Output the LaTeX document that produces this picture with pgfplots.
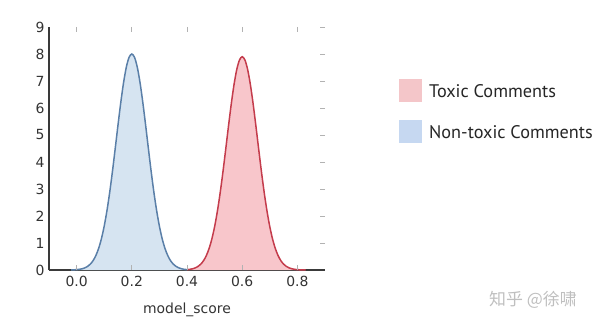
\documentclass[border=0pt]{standalone}
\usepackage{pgfplots}
\pgfplotsset{compat=1.18}
\usepackage{fontspec}
\setmainfont{DejaVu Sans}
\newfontfamily\legfont{PT Sans}
\newfontfamily\cjk{Noto Sans CJK SC}
\definecolor{bline}{HTML}{5A7FA8}
\definecolor{bfill}{HTML}{D6E4F1}
\definecolor{rline}{HTML}{C43C4C}
\definecolor{rfill}{HTML}{F8C6CB}
\definecolor{legr}{HTML}{F4C6C9}
\definecolor{legb}{HTML}{C6D8F1}
\definecolor{spine}{HTML}{3A3A3A}
\definecolor{txt}{HTML}{333333}
\begin{document}
\begin{tikzpicture}[x=1bp,y=1bp]
\path[use as bounding box] (0,0) rectangle (600,325);
\begin{axis}[
  at={(49bp,55bp)}, anchor=south west,
  scale only axis, width=276bp, height=243bp,
  xmin=-0.1, xmax=0.9, ymin=0, ymax=9,
  axis x line*=bottom, axis y line*=left,
  axis line style={spine, line width=1.4bp},
  xtick={0,0.2,0.4,0.6,0.8}, ytick={0,1,...,9},
  major tick length=0pt,
  xticklabel style={/pgf/number format/fixed,/pgf/number format/fixed zerofill,/pgf/number format/precision=1, yshift=-3bp},
  /pgf/number format/assume math mode=true,
  tick label style={font=\fontsize{14}{16}\selectfont, text=txt},
  xlabel={model\_score}, xlabel style={font=\fontsize{14}{16}\selectfont, text=txt, yshift=-9bp},
  yticklabel style={xshift=-1bp},
  clip=false,
]
\addplot[draw=none, fill=bfill] coordinates {
(-0.02,0.004)(-0.01,0.007)(0.00,0.014)(0.01,0.025)(0.02,0.046)(0.03,0.080)(0.04,0.135)(0.05,0.221)(0.06,0.351)(0.07,0.541)(0.08,0.806)(0.09,1.162)(0.10,1.624)(0.11,2.199)(0.12,2.883)(0.13,3.662)(0.14,4.507)(0.15,5.371)(0.16,6.198)(0.17,6.930)(0.18,7.506)(0.19,7.874)(0.20,8.000)(0.21,7.874)(0.22,7.506)(0.23,6.930)(0.24,6.198)(0.25,5.371)(0.26,4.507)(0.27,3.662)(0.28,2.883)(0.29,2.199)(0.30,1.624)(0.31,1.162)(0.32,0.806)(0.33,0.541)(0.34,0.351)(0.35,0.221)(0.36,0.135)(0.37,0.080)(0.38,0.046)(0.39,0.025)(0.40,0.014)
} \closedcycle;
\addplot[bline, line width=1.5bp, smooth] coordinates {
(-0.02,0.004)(-0.01,0.007)(0.00,0.014)(0.01,0.025)(0.02,0.046)(0.03,0.080)(0.04,0.135)(0.05,0.221)(0.06,0.351)(0.07,0.541)(0.08,0.806)(0.09,1.162)(0.10,1.624)(0.11,2.199)(0.12,2.883)(0.13,3.662)(0.14,4.507)(0.15,5.371)(0.16,6.198)(0.17,6.930)(0.18,7.506)(0.19,7.874)(0.20,8.000)(0.21,7.874)(0.22,7.506)(0.23,6.930)(0.24,6.198)(0.25,5.371)(0.26,4.507)(0.27,3.662)(0.28,2.883)(0.29,2.199)(0.30,1.624)(0.31,1.162)(0.32,0.806)(0.33,0.541)(0.34,0.351)(0.35,0.221)(0.36,0.135)(0.37,0.080)(0.38,0.046)(0.39,0.025)(0.40,0.014)
};
\addplot[draw=none, fill=rfill] coordinates {
(0.40,0.013)(0.41,0.025)(0.42,0.045)(0.43,0.079)(0.44,0.133)(0.45,0.218)(0.46,0.347)(0.47,0.534)(0.48,0.796)(0.49,1.148)(0.50,1.604)(0.51,2.172)(0.52,2.847)(0.53,3.616)(0.54,4.451)(0.55,5.304)(0.56,6.121)(0.57,6.843)(0.58,7.412)(0.59,7.775)(0.60,7.900)(0.61,7.775)(0.62,7.412)(0.63,6.843)(0.64,6.121)(0.65,5.304)(0.66,4.451)(0.67,3.616)(0.68,2.847)(0.69,2.172)(0.70,1.604)(0.71,1.148)(0.72,0.796)(0.73,0.534)(0.74,0.347)(0.75,0.218)(0.76,0.133)(0.77,0.079)(0.78,0.045)(0.79,0.025)(0.80,0.013)(0.81,0.007)(0.82,0.004)(0.83,0.002)
} \closedcycle;
\addplot[rline, line width=1.5bp, smooth] coordinates {
(0.40,0.013)(0.41,0.025)(0.42,0.045)(0.43,0.079)(0.44,0.133)(0.45,0.218)(0.46,0.347)(0.47,0.534)(0.48,0.796)(0.49,1.148)(0.50,1.604)(0.51,2.172)(0.52,2.847)(0.53,3.616)(0.54,4.451)(0.55,5.304)(0.56,6.121)(0.57,6.843)(0.58,7.412)(0.59,7.775)(0.60,7.900)(0.61,7.775)(0.62,7.412)(0.63,6.843)(0.64,6.121)(0.65,5.304)(0.66,4.451)(0.67,3.616)(0.68,2.847)(0.69,2.172)(0.70,1.604)(0.71,1.148)(0.72,0.796)(0.73,0.534)(0.74,0.347)(0.75,0.218)(0.76,0.133)(0.77,0.079)(0.78,0.045)(0.79,0.025)(0.80,0.013)(0.81,0.007)(0.82,0.004)(0.83,0.002)
};
\end{axis}
\begin{axis}[
  at={(49bp,55bp)}, anchor=south west,
  scale only axis, width=276bp, height=243bp,
  xmin=-0.1, xmax=0.9, ymin=0, ymax=9,
  axis line style={draw=none},
  xtick pos=both, ytick pos=right,
  xtick={0,0.2,0.4,0.6,0.8}, ytick={1,...,9},
  xticklabels={}, yticklabels={},
  tick align=inside, major tick length=5bp,
  major tick style={gray!60, line width=0.8bp},
]
\addplot[draw=none] coordinates {(0,0)};
\end{axis}
\fill[legr] (399,223) rectangle (422,246);
\fill[legb] (399,182) rectangle (422,205);
\node[anchor=west, inner sep=0pt, font=\legfont\fontsize{18.3}{21}\selectfont, text=black!85] at (429,234) {Toxic Comments};
\node[anchor=west, inner sep=0pt, font=\legfont\fontsize{18.3}{21}\selectfont, text=black!85] at (429,193) {Non-toxic Comments};
\node[anchor=west, inner sep=0pt, font=\cjk\fontsize{17}{19}\selectfont, text=black!25] at (489,25) {知乎 @徐啸};
\end{tikzpicture}
\end{document}
